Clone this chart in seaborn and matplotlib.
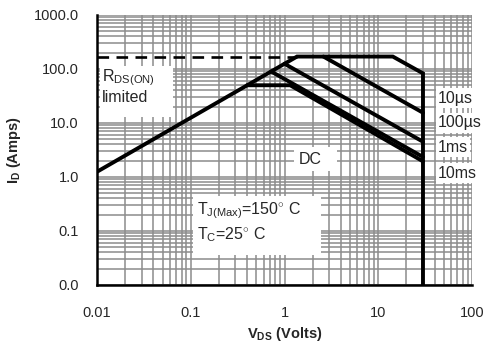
import matplotlib
matplotlib.use("Agg")
import matplotlib.pyplot as plt
import seaborn as sns
import pandas as pd
from matplotlib.ticker import FixedLocator, FixedFormatter, NullFormatter
from matplotlib.patches import Rectangle

# ---------------- data ----------------
x_ticks = [0.01, 0.1, 1, 10, 100]
x_tick_labels = ["0.01", "0.1", "1", "10", "100"]
y_ticks = [0.01, 0.1, 1, 10, 100, 1000]
y_tick_labels = ["0.0", "0.1", "1.0", "10.0", "100.0", "1000.0"]

rds_limit_v = [0.01, 1.36]
rds_limit_i = [165, 165]

v_10us = [0.01, 1.36, 14.3, 30, 30]
i_10us = [1.25, 170, 170, 83, 0.01]
v_100us = [2.6, 30]
i_100us = [170, 15.5]
v_1ms = [1.0, 30]
i_1ms = [125, 4.5]
v_10ms = [0.72, 30]
i_10ms = [90, 2.35]
v_dc = [0.4, 1.15, 30]
i_dc = [50, 50, 1.95]

curve_labels = ["10\u00b5s", "100\u00b5s", "1ms", "10ms"]

# ---------------- style ----------------
sns.set_style("white")
plt.rcParams["font.family"] = ["Liberation Sans", "DejaVu Sans"]
plt.rcParams["mathtext.fontset"] = "custom"
plt.rcParams["mathtext.rm"] = "Liberation Sans"
plt.rcParams["mathtext.it"] = "Liberation Sans:italic"
plt.rcParams["mathtext.bf"] = "Liberation Sans:bold"

W, H = 486, 346
fig = plt.figure(figsize=(W / 100, H / 100), dpi=100)
L, R, T, B = 97, 472, 15, 285
ax = fig.add_axes([L / W, 1 - B / H, (R - L) / W, (B - T) / H])
ax.set_xscale("log")
ax.set_yscale("log")
ax.set_xlim(0.01, 100)
ax.set_ylim(0.01, 1000)


def ax_x(px):
    return (px - L) / (R - L)


def ax_y(py):
    return (B - py) / (B - T)


# grid
minor_x = [m * 10.0 ** e for e in range(-2, 2) for m in range(2, 10)]
minor_y = [m * 10.0 ** e for e in range(-2, 3) for m in range(2, 10)]
ax.xaxis.set_major_locator(FixedLocator(x_ticks))
ax.xaxis.set_major_formatter(FixedFormatter(x_tick_labels))
ax.yaxis.set_major_locator(FixedLocator(y_ticks))
ax.yaxis.set_major_formatter(FixedFormatter(y_tick_labels))
ax.xaxis.set_minor_locator(FixedLocator(minor_x))
ax.yaxis.set_minor_locator(FixedLocator(minor_y))
ax.xaxis.set_minor_formatter(NullFormatter())
ax.yaxis.set_minor_formatter(NullFormatter())
ax.set_axisbelow(True)
ax.grid(True, which="both", color="#8c8c8c", lw=1.1)
ax.tick_params(which="both", length=0)
ax.tick_params(axis="y", pad=13, labelsize=10.5)
ax.tick_params(axis="x", pad=15, labelsize=10.5)

for s in ["top", "right"]:
    ax.spines[s].set_visible(False)
for s in ["left", "bottom"]:
    ax.spines[s].set_color("black")
    ax.spines[s].set_linewidth(1.8)
    ax.spines[s].set_zorder(5)

# white boxes
def wbox(x0, y0, x1, y1, clip=True):
    r = Rectangle((ax_x(x0), ax_y(y1)), ax_x(x1) - ax_x(x0), ax_y(y0) - ax_y(y1),
                  transform=ax.transAxes, facecolor="white", edgecolor="none",
                  zorder=1, clip_on=clip)
    ax.add_patch(r)

wbox(100, 66, 173, 117)
wbox(294, 147, 337, 171)
wbox(193, 196, 321, 255)

# curves
lw = 2.8
for v, i in [(v_10us, i_10us), (v_100us, i_100us), (v_1ms, i_1ms),
             (v_10ms, i_10ms), (v_dc, i_dc)]:
    sns.lineplot(x=v, y=i, sort=False, estimator=None, color="black", lw=lw,
                 ax=ax, zorder=3, solid_joinstyle="miter")
sns.lineplot(x=rds_limit_v, y=rds_limit_i, sort=False, estimator=None,
             color="black", lw=1.9, ax=ax, zorder=3,
             linestyle=(0, (4.4, 2.8)))

# texts
fs = 11.5
ax.text(ax_x(102), ax_y(78), r"R$_{\mathrm{DS(ON)}}$", transform=ax.transAxes,
        fontsize=fs, ha="left", va="center", zorder=4)
ax.text(ax_x(102), ax_y(97), "limited", transform=ax.transAxes,
        fontsize=fs, ha="left", va="center", zorder=4)
ax.text(ax_x(299), ax_y(159), "DC", transform=ax.transAxes,
        fontsize=fs, ha="left", va="center", zorder=4)
ax.text(ax_x(197), ax_y(211), r"T$_{\mathrm{J(Max)}}$=150$^{\circ}$ C",
        transform=ax.transAxes, fontsize=fs, ha="left", va="center", zorder=4)
ax.text(ax_x(197), ax_y(235), r"T$_{\mathrm{C}}$=25$^{\circ}$ C",
        transform=ax.transAxes, fontsize=fs, ha="left", va="center", zorder=4)

label_y = [98, 123, 147, 173]
for lab, py in zip(curve_labels, label_y):
    ax.text(ax_x(438), ax_y(py), lab, transform=ax.transAxes, fontsize=fs,
            ha="left", va="center", zorder=4, clip_on=False,
            bbox=dict(facecolor="white", edgecolor="none", pad=1.5))

ax.set_xlabel(r"V$_{\mathbf{DS}}$ (Volts)", fontsize=10.5, fontweight="bold")
ax.set_ylabel(r"I$_{\mathbf{D}}$ (Amps)", fontsize=10.5, fontweight="bold")
ax.xaxis.set_label_coords(0.5, ax_y(325))
ax.yaxis.set_label_coords(ax_x(23), 0.5)

fig.savefig("out.png", dpi=100)
